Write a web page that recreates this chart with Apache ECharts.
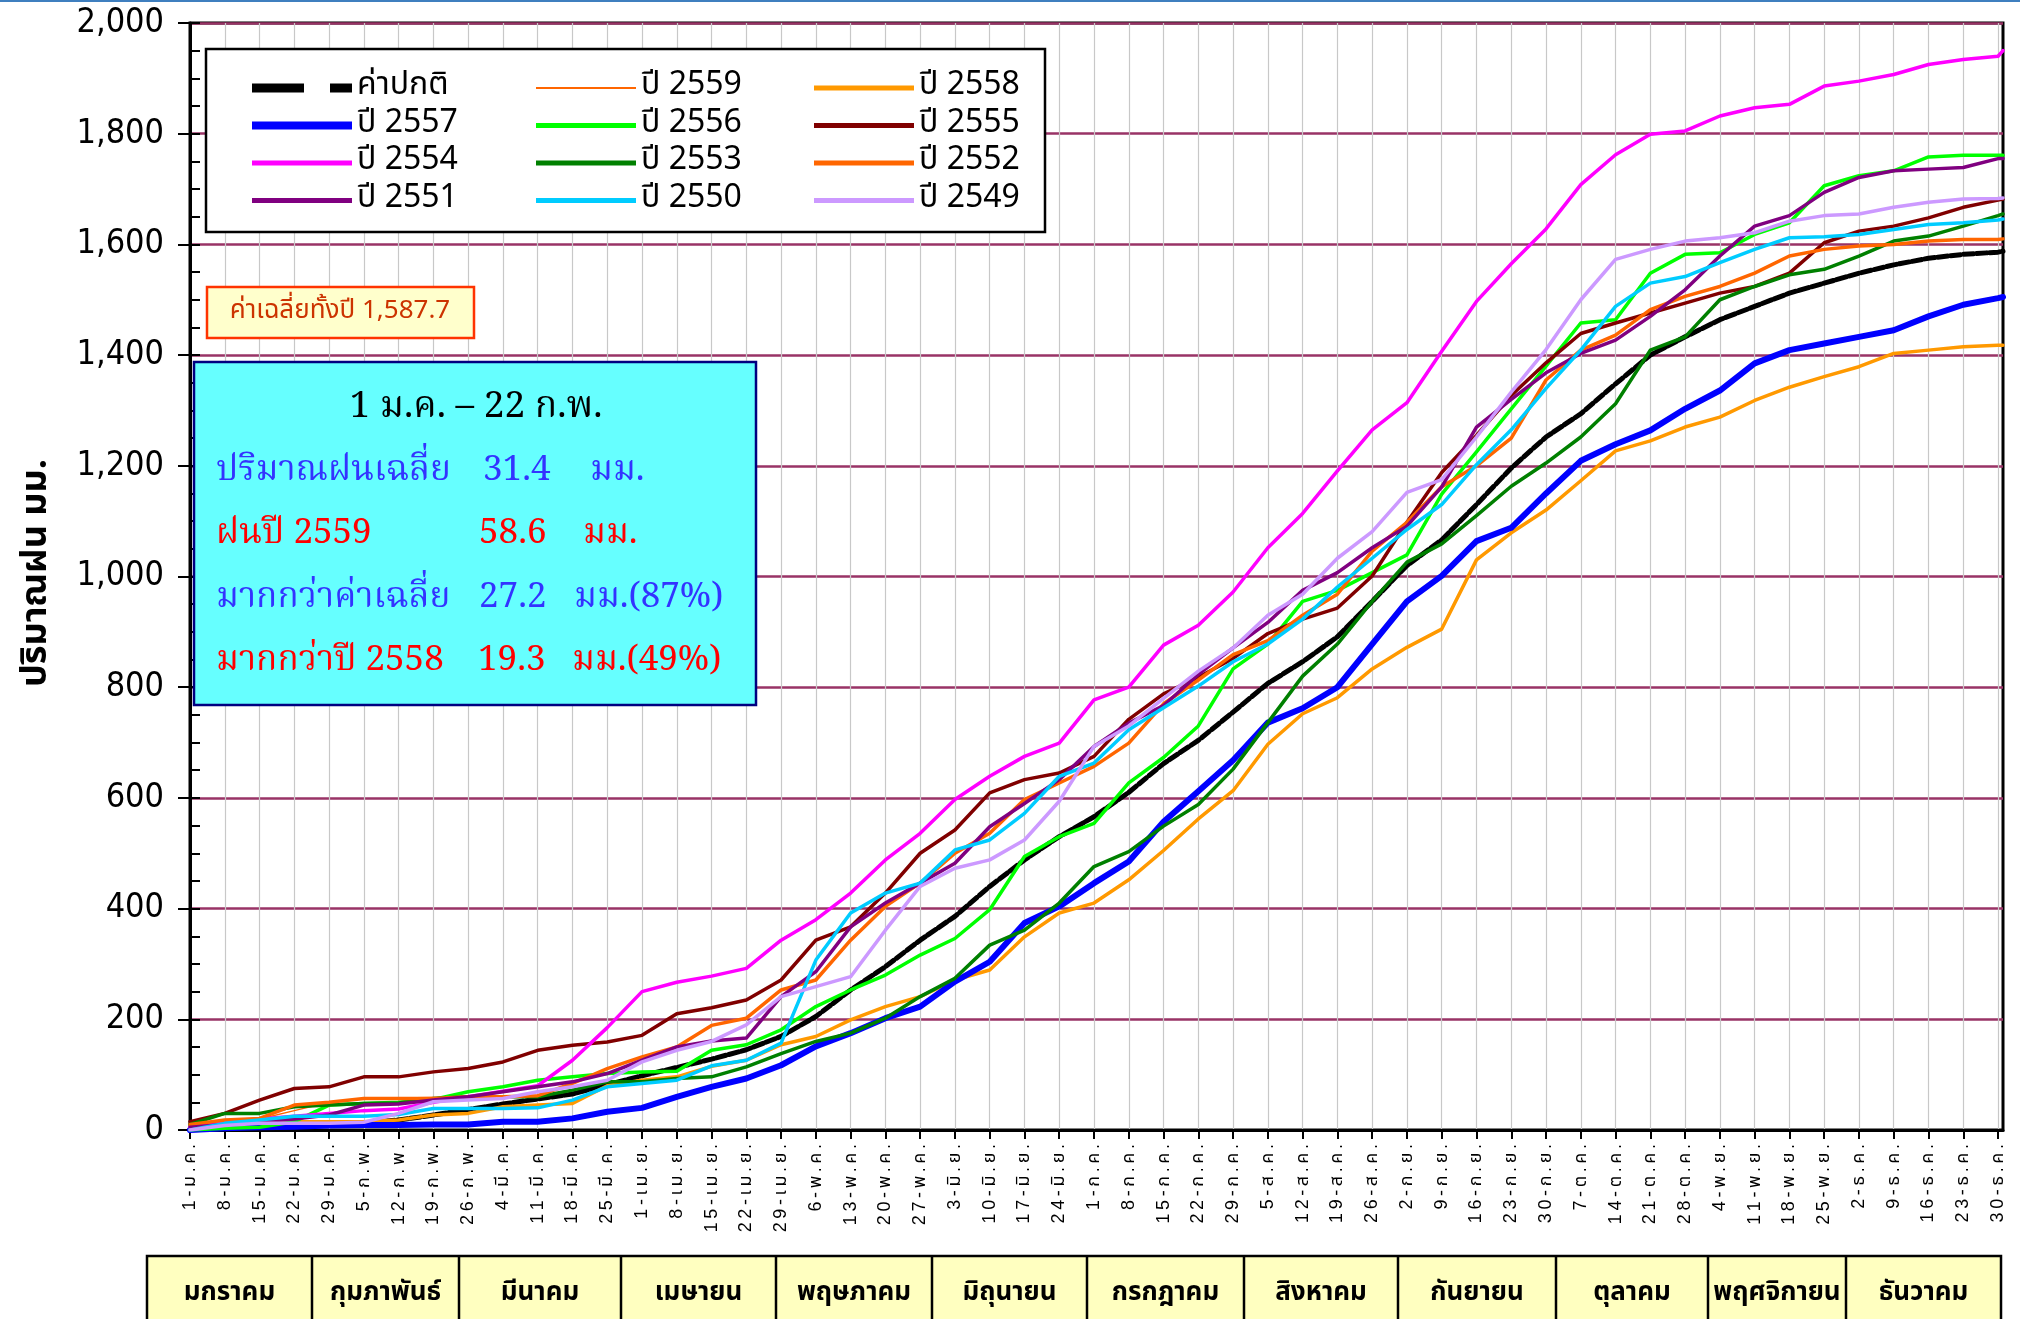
<!DOCTYPE html>
<html>
<head>
<meta charset="utf-8">
<script src="https://cdn.jsdelivr.net/npm/echarts@6/dist/echarts.min.js"></script>
<style>
html,body{margin:0;padding:0;background:#fff;}
#chart{width:2020px;height:1319px;}
</style>
</head>
<body>
<div id="chart"></div>
<script>
// ---- categories / labels ----
const monthAbbr = ['ม.ค.','ก.พ.','มี.ค.','เม.ย.','พ.ค.','มิ.ย.','ก.ค.','ส.ค.','ก.ย.','ต.ค.','พ.ย.','ธ.ค.'];
const monthDays = [31,29,31,30,31,30,31,31,30,31,30,31];
const monthNames = ['มกราคม','กุมภาพันธ์','มีนาคม','เมษายน','พฤษภาคม','มิถุนายน','กรกฎาคม','สิงหาคม','กันยายน','ตุลาคม','พฤศจิกายน','ธันวาคม'];
const yTicks = [0,200,400,600,800,1000,1200,1400,1600,1800,2000];

// day index (0 = 1 Jan) of each reading
const sampleDays = [0,7,14,21,28,35,42,49,56,63,70,77,84,91,98,105,112,119,126,133,140,147,154,161,168,175,182,189,196,203,210,217,224,231,238,245,252,259,266,273,280,287,294,301,308,315,322,329,336,343,350,357,364,365];

// ---- series values (mm, cumulative), read at the sample days ----
const normal = [0,3,5,7,9,13,18,27,37,47,56,65,82,98,113,128,145,169,205,253,295,343,386,440,488,530,566,610,662,704,755,807,846,891,955,1020,1066,1130,1196,1252,1294,1348,1400,1433,1464,1488,1512,1530,1548,1563,1575,1582,1586,1587.7];
const y2559Days = [0,3,7,14,21,28,35,42,49,52];
const y2559 = [0,8,15,20,35,50,57,58,58.6,58.6];
const y2558 = [0,10,12,15,15,15,18,27,30,42,45,48,80,90,96,115,126,154,169,199,223,241,271,289,349,392,410,452,505,562,613,697,752,781,833,872,905,1030,1079,1120,1173,1227,1245,1270,1288,1318,1342,1361,1379,1403,1409,1415,1418,1418];
const y2557 = [0,3,5,6,8,9,9,10,10,15,15,21,33,40,60,78,93,117,151,175,202,223,268,304,374,404,446,485,557,612,668,736,762,800,878,955,1001,1064,1088,1150,1209,1239,1264,1303,1336,1385,1409,1421,1433,1445,1470,1491,1503,1505];
const y2556 = [0,3,5,15,45,48,50,55,69,78,90,96,102,105,106,144,154,181,223,253,280,316,346,398,494,530,554,627,673,730,833,878,955,975,1007,1039,1149,1225,1303,1380,1458,1464,1548,1582,1585,1618,1639,1706,1724,1733,1758,1761,1761,1761];
const y2555 = [15,30,54,75,78,96,96,105,111,123,144,153,159,171,210,221,235,271,343,367,428,500,542,609,633,645,675,742,788,818,852,897,923,943,1001,1098,1188,1255,1327,1386,1439,1458,1476,1494,1512,1524,1548,1603,1624,1633,1648,1667,1680,1682];
const y2554 = [5,15,20,25,30,35,38,50,60,70,80,126,185,250,267,278,292,343,380,428,488,536,597,639,675,699,777,800,876,912,972,1052,1114,1191,1265,1314,1407,1497,1565,1628,1708,1762,1799,1805,1832,1847,1853,1886,1895,1907,1925,1934,1940,1950];
const y2553 = [10,30,30,42,45,48,49,57,60,60,60,72,87,87,93,96,114,138,160,175,202,241,274,334,361,410,476,503,549,588,652,736,820,878,955,1026,1059,1110,1163,1205,1252,1312,1409,1433,1500,1524,1545,1555,1579,1606,1615,1633,1652,1655];
const y2552 = [10,18,21,45,50,57,57,57,60,60,62,84,111,132,150,189,202,253,271,343,404,446,500,536,597,627,657,699,770,813,859,884,930,968,1046,1098,1162,1200,1250,1355,1409,1436,1482,1506,1524,1548,1579,1591,1597,1600,1606,1609,1609,1610];
const y2551 = [5,10,15,20,27,45,47,54,60,69,78,87,102,126,150,161,166,241,286,367,410,446,482,548,590,633,693,735,767,823,871,917,975,1007,1052,1091,1162,1270,1320,1368,1403,1427,1470,1518,1579,1633,1652,1694,1721,1733,1736,1739,1755,1755];
const y2550 = [0,12,18,25,25,25,28,39,39,39,40,54,78,84,90,116,126,157,307,392,428,446,506,524,572,639,663,723,763,802,846,878,923,981,1033,1085,1130,1202,1265,1340,1409,1488,1530,1542,1567,1591,1612,1614,1618,1627,1636,1639,1644,1646];
const y2549 = [0,8,12,12,12,14,30,51,54,57,69,78,90,123,144,160,190,241,259,277,361,440,473,488,524,594,693,730,780,829,871,930,968,1033,1081,1152,1175,1252,1333,1410,1500,1573,1591,1606,1612,1621,1642,1652,1655,1667,1676,1682,1683,1684];

// ---- build categories ----
const categories = [];
monthDays.forEach((n, m) => { for (let d = 1; d <= n; d++) categories.push(d + '-' + monthAbbr[m]); });

function pairs(xs, ys) { return ys.map((v, i) => [xs[i], v]); }
// widen letter spacing of tick labels (thin spaces, Thai combining marks stay attached)
function spaced(s) {
  let out = '';
  for (const ch of s) {
    const c = ch.codePointAt(0);
    const comb = c === 0x0E31 || (c >= 0x0E34 && c <= 0x0E3A) || (c >= 0x0E47 && c <= 0x0E4E);
    if (out && !comb) out += '\u2009';
    out += ch;
  }
  return out;
}

const thaiSans = "'Noto Sans Thai','Noto Sans Thai UI','Loma','Garuda','Norasi','Liberation Sans Narrow','Liberation Sans',sans-serif";
const thaiSerif = "'Noto Serif Thai','Norasi','Liberation Serif','Noto Sans Thai',serif";

const seriesDefs = [
  {name:'ค่าปกติ', xs:sampleDays, data:normal, color:'#000000', width:5, type:[10,3], icon:'path://M0,0H52V9H0Z M78,0H100V9H78Z'},
  {name:'ปี 2559', xs:y2559Days, data:y2559, color:'#FF6600', width:1.5, icon:'path://M0,0H100V2H0Z'},
  {name:'ปี 2558', xs:sampleDays, data:y2558, color:'#FF9900', width:3.5, icon:'path://M0,0H100V5H0Z'},
  {name:'ปี 2557', xs:sampleDays, data:y2557, color:'#0000FF', width:6, icon:'path://M0,0H100V8H0Z'},
  {name:'ปี 2556', xs:sampleDays, data:y2556, color:'#00FF00', width:3.5, icon:'path://M0,0H100V5H0Z'},
  {name:'ปี 2555', xs:sampleDays, data:y2555, color:'#800000', width:3.5, icon:'path://M0,0H100V5H0Z'},
  {name:'ปี 2554', xs:sampleDays, data:y2554, color:'#FF00FF', width:3.5, icon:'path://M0,0H100V5H0Z'},
  {name:'ปี 2553', xs:sampleDays, data:y2553, color:'#008000', width:3.5, icon:'path://M0,0H100V5H0Z'},
  {name:'ปี 2552', xs:sampleDays, data:y2552, color:'#FF6600', width:3.5, icon:'path://M0,0H100V5H0Z'},
  {name:'ปี 2551', xs:sampleDays, data:y2551, color:'#800080', width:3.5, icon:'path://M0,0H100V5H0Z'},
  {name:'ปี 2550', xs:sampleDays, data:y2550, color:'#00CCFF', width:3.5, icon:'path://M0,0H100V5H0Z'},
  {name:'ปี 2549', xs:sampleDays, data:y2549, color:'#CC99FF', width:3.5, icon:'path://M0,0H100V5H0Z'}
];

const series = seriesDefs.map(s => ({
  name: s.name, type: 'line', symbol: 'none', smooth: false,
  color: s.color, itemStyle: {color: s.color},
  lineStyle: {color: s.color, width: s.width, type: s.type || 'solid', cap: 'round', join: 'round'},
  data: pairs(s.xs, s.data), z: 3, animation: false
}));

const iconOf = {}; seriesDefs.forEach(s => iconOf[s.name] = s.icon);
function legendCol(left, names) {
  return {
    orient: 'vertical', left: left, top: 67, itemWidth: 100, itemHeight: 14, itemGap: 5.5,
    selectedMode: false, z: 20,
    textStyle: {fontFamily: thaiSans, fontSize: 32, lineHeight: 32, color: '#000'},
    data: names.map(n => ({name: n, icon: iconOf[n]}))
  };
}

const weekly = (i) => i % 7 === 0;

// graphic elements
const graphics = [
  {type:'rect', shape:{x:0,y:0,width:2020,height:2}, style:{fill:'#3f7fbf'}, z:30},
  // legend frame
  {type:'rect', shape:{x:206,y:49,width:839,height:183}, style:{fill:'#fff', stroke:'#000', lineWidth:2.5}, z:10},
  // annual average box
  {type:'rect', shape:{x:207,y:287,width:267,height:51}, style:{fill:'#FFFFCC', stroke:'#FF3300', lineWidth:2.5}, z:10},
  {type:'text', x:340, y:313, style:{text:'ค่าเฉลี่ยทั้งปี 1,587.7', font:"26px " + thaiSans, fill:'#CC3300', align:'center', verticalAlign:'middle'}, z:11},
  // info box
  {type:'rect', shape:{x:194,y:362,width:562,height:343}, style:{fill:'#66FFFF', stroke:'#000080', lineWidth:2.5}, z:10},
  {type:'text', x:476, y:411, style:{text:'1 ม.ค. – 22 ก.พ.', font:"37px " + thaiSerif, fill:'#000', align:'center', verticalAlign:'middle'}, z:11},
  {type:'text', x:216, y:474, style:{text:'ปริมาณฝนเฉลี่ย', font:"35px " + thaiSerif, fill:'#3333FF', verticalAlign:'middle'}, z:11},
  {type:'text', x:483, y:474, style:{text:'31.4', font:"35px " + thaiSerif, fill:'#3333FF', verticalAlign:'middle'}, z:11},
  {type:'text', x:590, y:474, style:{text:'มม.', font:"35px " + thaiSerif, fill:'#3333FF', verticalAlign:'middle'}, z:11},
  {type:'text', x:216, y:537, style:{text:'ฝนปี 2559', font:"35px " + thaiSerif, fill:'#FF0000', verticalAlign:'middle'}, z:11},
  {type:'text', x:479, y:537, style:{text:'58.6', font:"35px " + thaiSerif, fill:'#FF0000', verticalAlign:'middle'}, z:11},
  {type:'text', x:583, y:537, style:{text:'มม.', font:"35px " + thaiSerif, fill:'#FF0000', verticalAlign:'middle'}, z:11},
  {type:'text', x:216, y:601, style:{text:'มากกว่าค่าเฉลี่ย', font:"35px " + thaiSerif, fill:'#3333FF', verticalAlign:'middle'}, z:11},
  {type:'text', x:479, y:601, style:{text:'27.2', font:"35px " + thaiSerif, fill:'#3333FF', verticalAlign:'middle'}, z:11},
  {type:'text', x:574, y:601, style:{text:'มม.(87%)', font:"35px " + thaiSerif, fill:'#3333FF', verticalAlign:'middle'}, z:11},
  {type:'text', x:216, y:664, style:{text:'มากกว่าปี 2558', font:"35px " + thaiSerif, fill:'#FF0000', verticalAlign:'middle'}, z:11},
  {type:'text', x:478, y:664, style:{text:'19.3', font:"35px " + thaiSerif, fill:'#FF0000', verticalAlign:'middle'}, z:11},
  {type:'text', x:572, y:664, style:{text:'มม.(49%)', font:"35px " + thaiSerif, fill:'#FF0000', verticalAlign:'middle'}, z:11},
  // y axis title
  {type:'text', x:39, y:573, rotation: Math.PI/2, style:{text:'ปริมาณฝน มม.', font:"bold 36px " + thaiSans, fill:'#000', align:'center', verticalAlign:'middle'}, z:11}
];
// month table
const tableEdges = [147,312,459,621,776,932,1087,1244,1398,1556,1708,1846,2001];
graphics.push({type:'rect', shape:{x:147,y:1256,width:1854,height:80}, style:{fill:'#FFFFC0', stroke:'#000', lineWidth:2.5}, z:10});
for (let i = 1; i < tableEdges.length - 1; i++) {
  graphics.push({type:'line', shape:{x1:tableEdges[i],y1:1256,x2:tableEdges[i],y2:1319}, style:{stroke:'#000', lineWidth:2.5}, z:11});
}
monthNames.forEach((n, i) => {
  graphics.push({type:'text', x:(tableEdges[i]+tableEdges[i+1])/2, y:1295, style:{text:n, font:"bold 26px " + thaiSans, fill:'#000', align:'center', verticalAlign:'middle'}, z:12});
});

const chart = echarts.init(document.getElementById('chart'), null, {renderer:'canvas'});
chart.setOption({
  animation: false,
  backgroundColor: '#fff',
  grid: {left:190, right:17, top:23, bottom:189, show:true, borderColor:'#000', borderWidth:3, backgroundColor:'transparent'},
  legend: [
    legendCol(247, ['ค่าปกติ','ปี 2557','ปี 2554','ปี 2551']),
    legendCol(531, ['ปี 2559','ปี 2556','ปี 2553','ปี 2550']),
    legendCol(809, ['ปี 2558','ปี 2555','ปี 2552','ปี 2549'])
  ],
  xAxis: {
    type:'category', data: categories, boundaryGap:false,
    axisLine:{lineStyle:{color:'#000', width:3}},
    axisTick:{interval: weekly, length:9, lineStyle:{color:'#000', width:2}},
    axisLabel:{interval: weekly, rotate:90, fontSize:18, margin:14, color:'#000', fontFamily: "'Liberation Sans'," + thaiSans,
      formatter: v => spaced(v)},
    splitLine:{show:true, interval: weekly, lineStyle:{color:'#c8c8c8', width:1.2}}
  },
  yAxis: [
    {
      type:'value', min:0, max:2000, interval:200,
      axisLine:{show:true, lineStyle:{color:'#000', width:3}},
      axisTick:{show:true, length:12, lineStyle:{color:'#000', width:2}},
      axisLabel:{margin:26, fontSize:34, color:'#000', fontFamily:"'Liberation Sans Narrow','DejaVu Sans Condensed',sans-serif",
        formatter: v => v.toLocaleString('en-US')},
      splitLine:{show:true, lineStyle:{color:'#993366', width:2.5}}
    },
    {
      type:'value', min:0, max:2000, interval:50, position:'left',
      axisLine:{show:false}, axisLabel:{show:false}, splitLine:{show:false},
      axisTick:{show:true, inside:true, length:10, lineStyle:{color:'#000', width:2}}
    }
  ],
  series: series,
  graphic: graphics
});
</script>
</body>
</html>
